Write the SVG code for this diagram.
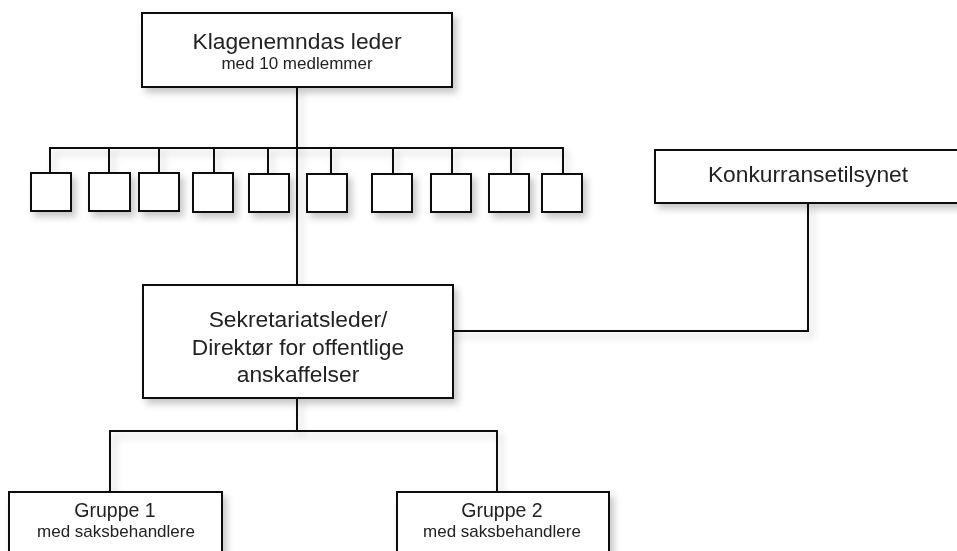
<svg xmlns="http://www.w3.org/2000/svg" width="957" height="551" viewBox="0 0 957 551">
<defs>
<filter id="sh" x="-20%" y="-20%" width="150%" height="160%">
<feDropShadow dx="4" dy="5" stdDeviation="3.5" flood-color="#000" flood-opacity="0.22"/>
</filter>
</defs>
<style>
.box{fill:#fff;stroke:#111;stroke-width:2}
.ln{fill:none;stroke:#111;stroke-width:2}
text{font-family:"Liberation Sans",Arial,sans-serif;fill:#222;text-anchor:middle}
.t{font-size:22.8px}
.s{font-size:17px}
.g{font-size:19.5px}
</style>
<rect width="957" height="551" fill="#fff"/>
<g id="connectors" filter="url(#sh)">
<path class="ln" d="M297,87 V285"/>
<path class="ln" d="M50,173 V148 H563 V174"/>
<path class="ln" d="M109,148 V173 M159,148 V173 M214,148 V173 M268,148 V173 M331,148 V174 M393,148 V174 M452,148 V174 M511,148 V174"/>
<path class="ln" d="M453,331 H808 V203"/>
<path class="ln" d="M297,398 V431 M110,492 V431 H497 V492"/>
</g>
<g id="leder" filter="url(#sh)">
<rect class="box" x="142" y="13" width="310" height="74"/>
<text class="t" x="297" y="49">Klagenemndas leder</text>
<text class="s" x="297" y="69">med 10 medlemmer</text>
</g>
<g id="medlemmer" filter="url(#sh)">
<rect id="m1" class="box" x="31" y="173" width="40" height="38"/>
<rect id="m2" class="box" x="89" y="173" width="41" height="38"/>
<rect id="m3" class="box" x="139" y="173" width="40" height="38"/>
<rect id="m4" class="box" x="193" y="173" width="40" height="39"/>
<rect id="m5" class="box" x="249" y="174" width="40" height="38"/>
<rect id="m6" class="box" x="307" y="174" width="40" height="38"/>
<rect id="m7" class="box" x="372" y="174" width="40" height="38"/>
<rect id="m8" class="box" x="431" y="174" width="40" height="38"/>
<rect id="m9" class="box" x="489" y="174" width="40" height="38"/>
<rect id="m10" class="box" x="542" y="174" width="40" height="38"/>
</g>
<g id="konkurransetilsynet" filter="url(#sh)">
<rect class="box" x="655" y="150" width="310" height="53"/>
<text class="t" x="808" y="182">Konkurransetilsynet</text>
</g>
<g id="sekretariat" filter="url(#sh)">
<rect class="box" x="143" y="285" width="310" height="113"/>
<text class="t" x="298" y="327">Sekretariatsleder/</text>
<text class="t" x="298" y="355">Direktør for offentlige</text>
<text class="t" x="298" y="382">anskaffelser</text>
</g>
<g id="gruppe1" filter="url(#sh)">
<rect class="box" x="9" y="492" width="213" height="70"/>
<text class="g" x="115" y="517">Gruppe 1</text>
<text class="s" x="116" y="537">med saksbehandlere</text>
</g>
<g id="gruppe2" filter="url(#sh)">
<rect class="box" x="397" y="492" width="212" height="70"/>
<text class="g" x="502" y="517">Gruppe 2</text>
<text class="s" x="502" y="537">med saksbehandlere</text>
</g>
</svg>
